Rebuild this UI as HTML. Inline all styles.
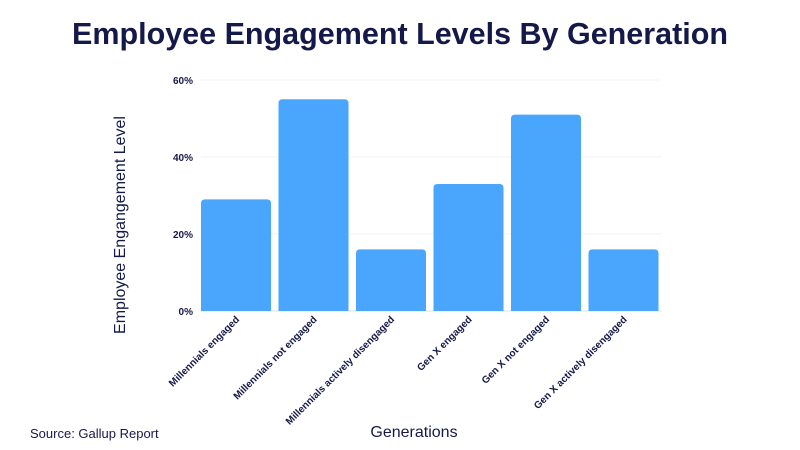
<!DOCTYPE html>
<html><head><meta charset="utf-8"><style>
body{margin:0;background:#fff;}
svg{display:block;font-family:"Liberation Sans",sans-serif;}
</style></head><body>
<svg width="800" height="450">
<text x="400" y="44" text-anchor="middle" font-size="30.5" font-weight="bold" fill="#15194a">Employee Engagement Levels By Generation</text>
<g id="grid"></g><g id="bars"></g><g id="xlabels"></g>
<text transform="translate(125,225) rotate(-90)" text-anchor="middle" font-size="16" fill="#15194a">Employee Engangement Level</text>
<text x="414" y="437" text-anchor="middle" font-size="16" fill="#15194a">Generations</text>
<text x="30" y="438" font-size="13" fill="#15194a">Source: Gallup Report</text>
</svg>
<script>
const categories=["Millennials engaged","Millennials not engaged","Millennials actively disengaged","Gen X engaged","Gen X not engaged","Gen X actively disengaged"];
const values=[29,55,16,33,51,16];
const ticks=[0,20,40,60];
const tickLabels=["0%","20%","40%","60%"];
const NS="http://www.w3.org/2000/svg";
const x0=201,band=77.5,bw=70,y0=311,ymax=60,ph=231;
const y=v=>y0-v/ymax*ph;
const mk=(t,a,p)=>{const e=document.createElementNS(NS,t);for(const k in a)e.setAttribute(k,a[k]);p.appendChild(e);return e;};
const g=document.getElementById('grid');
ticks.forEach((t,i)=>{
 const l=mk('line',{x1:x0,x2:662,y1:y(t),y2:y(t),stroke:t===0?'#dde0ea':'#eef0f4','stroke-width':1},g);
 
 
 const tx=mk('text',{x:193,y:y(t)+4,'text-anchor':'end','font-size':10,'font-weight':'bold',fill:'#15194a'},g);
 tx.textContent=tickLabels[i];
 
 
});
const b=document.getElementById('bars'),xl=document.getElementById('xlabels');
categories.forEach((c,i)=>{
 const bx=x0+i*band,top=y(values[i]);
 const r=mk('path',{d:`M${bx},${y0}V${top+4}Q${bx},${top} ${bx+4},${top}H${bx+bw-4}Q${bx+bw},${top} ${bx+bw},${top+4}V${y0}Z`,fill:'#4aa6fd'},b);
 
 
 const cx=bx+bw/2+4;
 const t=mk('text',{transform:`translate(${cx},${320}) rotate(-45)`,'text-anchor':'end','font-size':10,'font-weight':'bold',fill:'#15194a'},xl);
 t.textContent=c;
 
 
});
</script>
</body></html>
